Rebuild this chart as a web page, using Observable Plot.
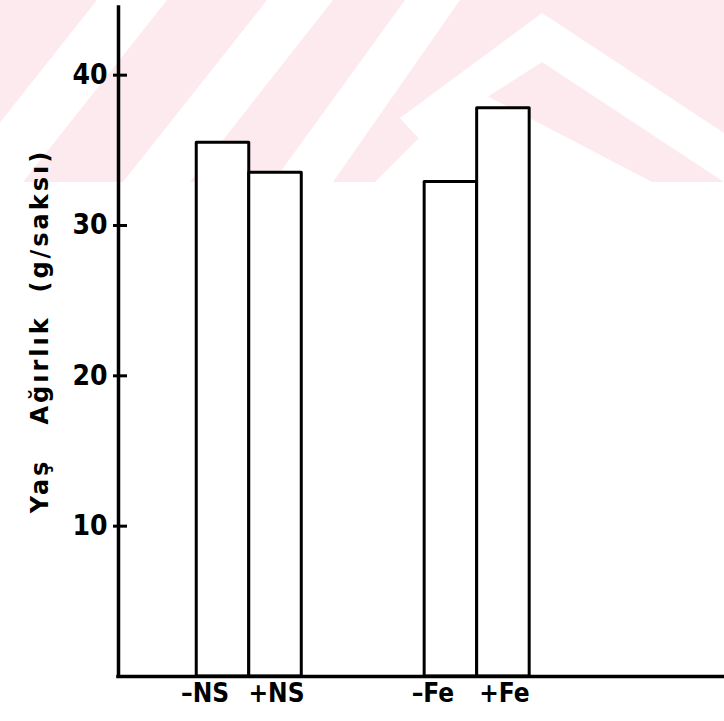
<!DOCTYPE html>
<html>
<head>
<meta charset="utf-8">
<script src="https://cdn.jsdelivr.net/npm/d3@7"></script>
<script src="https://cdn.jsdelivr.net/npm/@observablehq/plot@0.6"></script>
<style>
  html, body { margin: 0; padding: 0; background: #fff; }
  #chart { position: relative; width: 724px; height: 721px; overflow: hidden; }
  #band { position: absolute; left: 0; top: 0; }
  #chart > svg:not(#band) { position: absolute; left: 0; top: 0; }
  #chart g[aria-label="text"] text { letter-spacing: 3px; white-space: pre; }
</style>
</head>
<body>
<div id="chart">
  <!-- light pink watermark band behind the plot -->
  <svg id="band" width="724" height="182">
    <rect width="724" height="182" fill="#fdeaee"/>
    <g fill="#ffffff">
      <polygon points="97,0 167,0 23,182 -47,182"/>
      <polygon points="267,0 333,0 190,182 123,182"/>
      <polygon points="405,0 460,0 333,182 273,182"/>
      <polygon points="542,13 724,133 724,182 542,62 420,140 400,118"/>
      <polygon points="470,87 652,182 375,182"/>
    </g>
  </svg>
</div>
<script>
// Treatments, their groups and fresh weights (g/pot)
const treatments = ["–NS", "+NS", "–Fe", "+Fe"];
const groups = ["NS", "NS", "Fe", "Fe"];
const freshWeight = [35.5, 33.5, 32.9, 37.8];
const yTicks = [10, 20, 30, 40];
const yLabel = "Yaş   Ağırlık  (g/saksı)";

// Horizontal layout, in units of one bar width
const lead = 1.49;      // space between the y axis and the first bar
const groupGap = 2.34;  // empty space between the two pairs
const span = 11.54;     // full width of the x axis

const groupNames = [...new Set(groups)];
const bars = treatments.map((t, i) => {
  const g = groupNames.indexOf(groups[i]);
  const m = groups.slice(0, i).filter(d => d === groups[i]).length;
  const x1 = lead + g * (2 + groupGap) + m;
  return {treatment: t, value: freshWeight[i], x1, x2: x1 + 1, xc: x1 + 0.5, first: m === 0};
});
const labelAt = new Map(bars.map(d => [d.xc, d.treatment]));
const minusTicks = bars.filter(d => d.first).map(d => d.xc);
const plusTicks = bars.filter(d => !d.first).map(d => d.xc);

const font = "'DejaVu Sans Condensed', 'DejaVu Sans', sans-serif";
const xLabelStyle = {tickFormat: d => labelAt.get(d), tickSize: 0, tickPadding: 7, fontSize: 26, fontWeight: "bold", label: null};

const plot = Plot.plot({
  width: 724,
  height: 721,
  marginLeft: 118,
  marginRight: 0,
  marginTop: 7,
  marginBottom: 45,
  style: {background: "transparent", fontFamily: font, color: "#000"},
  x: {domain: [0, span], axis: null},
  y: {domain: [0, 44.5], axis: null},
  marks: [
    Plot.rectY(bars, {x1: "x1", x2: "x2", y: "value", fill: "white", stroke: "black", strokeWidth: 3, strokeLinejoin: "round"}),
    Plot.ruleX([0], {stroke: "black", strokeWidth: 3.5, strokeLinecap: "square"}),
    Plot.ruleY([0], {stroke: "black", strokeWidth: 3.5, strokeLinecap: "square"}),
    Plot.axisY({ticks: yTicks, tickSize: 14, tickPadding: 6, dx: 9, strokeWidth: 3, fontSize: 28, fontWeight: "bold", tickFormat: d => String(d), label: null}),
    Plot.axisX({...xLabelStyle, ticks: minusTicks, dx: -18}),
    Plot.axisX({...xLabelStyle, ticks: plusTicks, dx: 1}),
    Plot.text([yLabel], {frameAnchor: "left", textAnchor: "middle", rotate: -90, dx: -78, dy: -11, fontSize: 24, fontWeight: "bold", fontFamily: "'DejaVu Sans', sans-serif"})
  ]
});
document.getElementById("chart").appendChild(plot);
</script>
</body>
</html>
